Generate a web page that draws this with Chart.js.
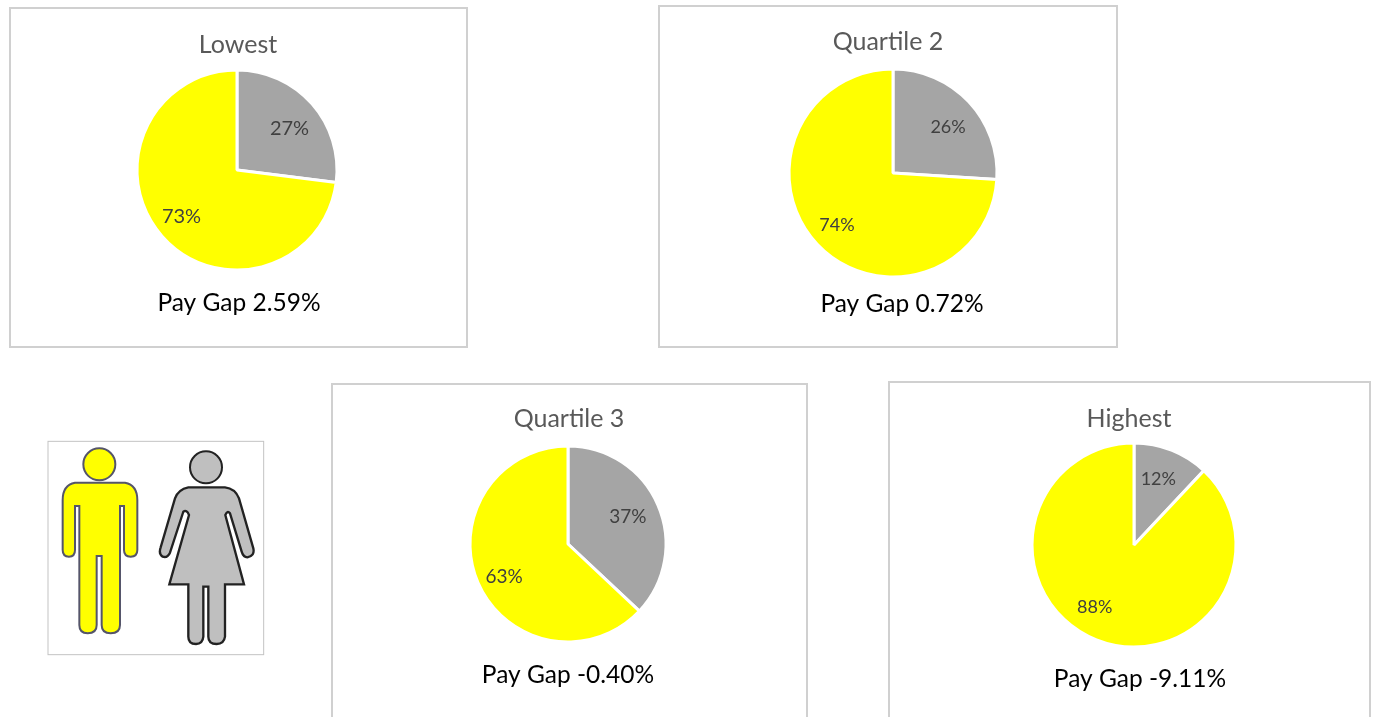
<!DOCTYPE html>
<html><head><meta charset="utf-8">
<script src="https://cdn.jsdelivr.net/npm/chart.js@4"></script>
<style>
html,body{margin:0;padding:0;background:#fff;width:1373px;height:717px;overflow:hidden}
.frame{position:absolute;box-sizing:border-box;border:2px solid #d0d0d0;background:#fff}
canvas{position:absolute;left:0;top:0}
svg{position:absolute}
</style></head><body>
<div id="root"></div>
<svg style="left:40px;top:430px" width="230" height="230" viewBox="0 0 690 690">
<defs><filter id="soft"><feGaussianBlur stdDeviation="2"/></filter></defs>
<rect x="24" y="34" width="647" height="640" fill="#fff" stroke="#c4c4c4" stroke-width="3"/>
<g filter="url(#soft)">
<circle cx="178" cy="103" r="48" fill="#ffff00" stroke="#55556a" stroke-width="6"/>
<path d="M105 158H255Q292 165 292 210V360Q292 380 272 380Q252 380 252 360V228H240V585Q240 610 212 610Q185 610 185 585V378H170V585Q170 610 143 610Q118 610 118 585V228H105V360Q105 380 87 380Q68 380 68 360V210Q68 165 105 158Z" fill="#ffff00" stroke="#55556a" stroke-width="6"/>
<circle cx="498" cy="112" r="48" fill="#bfbfbf" stroke="#222" stroke-width="6"/>
<path d="M445 172H555Q585 175 597 205L640 355Q645 378 622 382Q610 382 605 365L570 250Q562 240 556 255L612 463H555V620Q552 642 530 642Q505 642 505 620V470H490V620Q488 642 468 642Q445 642 445 620V463H388L447 255Q440 238 430 245L390 368Q382 385 368 380Q355 372 362 352L405 205Q415 178 445 172Z" fill="#bfbfbf" stroke="#222" stroke-width="7"/>
</g></svg>
<script>
// Data
const categories = ['Female', 'Male'];
const chartTitles = ['Lowest', 'Quartile 2', 'Quartile 3', 'Highest'];
const payGapLabels = ['Pay Gap 2.59%', 'Pay Gap 0.72%', 'Pay Gap -0.40%', 'Pay Gap -9.11%'];
const lowestValues = [27, 73];
const quartile2Values = [26, 74];
const quartile3Values = [37, 63];
const highestValues = [12, 88];
const allValues = [lowestValues, quartile2Values, quartile3Values, highestValues];

// Layout: frame [x,y,w,h], pie centre and radius, text anchors, label nudges
const frames = [[9,7,459,341],[658,5,460,343],[331,383,477,346],[888,381,483,348]];
const centres = [[237,170],[893,173],[568,544],[1134,545]];
const radii = [100,104,98,102];
const titleAnchors = [[238,45],[888,42],[569,419],[1129,419]];
const gapAnchors = [[239,303],[902,304],[568,675],[1140,679]];
const labelNudges = [[[0,5],[-3,0]],[[2,4],[-3,2]],[[-3,0],[-1,6]],[[-2,1],[-13,-4]]];
const sliceColours = ['#a5a5a5', '#ffff00'];
const FONT = 'Lato, Carlito, "Open Sans", sans-serif';
const LABEL_SIZES = [20, 18, 19, 18];

const root = document.getElementById('root');
allValues.forEach((values, i) => {
  const [fx, fy, fw, fh] = frames[i];
  const [cx, cy] = centres[i];
  const r = radii[i];
  const div = document.createElement('div');
  div.className = 'frame';
  div.style.cssText = `left:${fx}px;top:${fy}px;width:${fw}px;height:${fh}px`;
  const cv = document.createElement('canvas');
  cv.width = fw; cv.height = fh;
  cv.style.left = '-2px'; cv.style.top = '-2px';
  div.appendChild(cv);
  root.appendChild(div);
  const lx = cx - fx, ly = cy - fy, m = 3;
  const textPlugin = {
    id: 'texts',
    afterDatasetsDraw(chart) {
      const ctx = chart.ctx;
      ctx.save();
      ctx.textAlign = 'center';
      ctx.textBaseline = 'middle';
      ctx.fillStyle = '#595959';
      ctx.font = `25px ${FONT}`;
      ctx.fillText(chartTitles[i], titleAnchors[i][0] - fx, titleAnchors[i][1] - fy);
      ctx.fillStyle = '#000';
      ctx.font = `24.5px ${FONT}`;
      ctx.fillText(payGapLabels[i], gapAnchors[i][0] - fx, gapAnchors[i][1] - fy);
      ctx.fillStyle = '#404040';
      ctx.font = `${LABEL_SIZES[i]}px ${FONT}`;
      chart.getDatasetMeta(0).data.forEach((arc, k) => {
        const p = arc.getProps(['startAngle','endAngle','x','y','outerRadius'], true);
        const mid = (p.startAngle + p.endAngle) / 2;
        const d = p.outerRadius * 0.7;
        ctx.fillText(values[k] + '%',
          p.x + Math.cos(mid) * d + labelNudges[i][k][0],
          p.y + Math.sin(mid) * d + labelNudges[i][k][1]);
      });
      ctx.restore();
    }
  };
  new Chart(cv, {
    type: 'pie',
    data: { labels: categories, datasets: [{ data: values, backgroundColor: sliceColours, borderColor: '#fff', borderWidth: 3 }] },
    options: {
      responsive: false, animation: false,
      radius: r,
      layout: { padding: { left: lx - r - m, right: fw - lx - r - m, top: ly - r - m, bottom: fh - ly - r - m } },
      plugins: { legend: { display: false }, tooltip: { enabled: false }, title: { display: false } }
    },
    plugins: [textPlugin]
  });
});
</script>
</body></html>
